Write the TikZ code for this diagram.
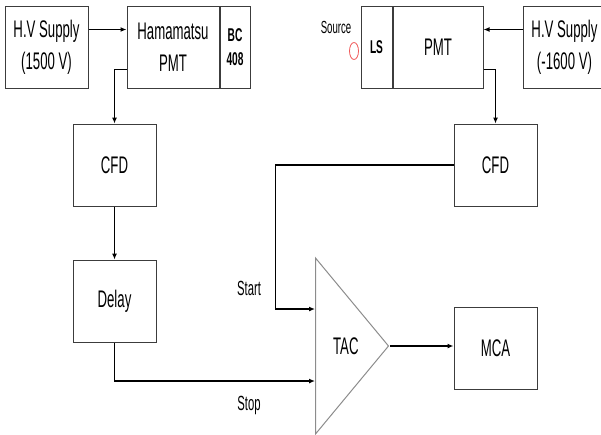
\documentclass[tikz,border=0pt]{standalone}
\usepackage{fontspec}
\setmainfont{Liberation Sans}[FakeStretch=0.55]
\usepackage{tikz}
\usetikzlibrary{arrows.meta,positioning,shapes.geometric}
\definecolor{edge}{RGB}{60,60,60}
\definecolor{tacgray}{RGB}{140,140,140}
\definecolor{srcred}{RGB}{240,90,90}

\begin{document}
\begin{tikzpicture}[
  x=1pt, y=-1pt,
  node distance=35pt and 38pt,
  every node/.style={font=\fontsize{24}{32}\selectfont},
  box/.style={draw=edge, line width=1pt, inner sep=0pt, align=center,
    minimum width=83pt, minimum height=82pt},
  tag/.style={font=\fontsize{20.5}{22}\selectfont},
  sig/.style={-{Latex[length=6pt,width=5pt]}, line width=1.8pt},
  thinsig/.style={-{Latex[length=6pt,width=5pt]}, line width=1.1pt}
]
\useasboundingbox (0,0) rectangle (601,434);

% left chain
\node[box] (hvl) at (46.5,47) {H.V Supply\\(1500 V)};
\node[box, minimum width=92pt, right=of hvl] (ham) {Hamamatsu\\PMT};
\node[box, minimum width=30pt, right=0pt of ham,
  font=\bfseries\fontsize{18.5}{24}\selectfont] (bc) {BC\\408};
\node[box, below=of hvl, xshift=68pt] (cfdl) {CFD};
\node[box, below=53pt of cfdl] (delay) {Delay};

% right chain
\node[box, minimum width=90pt] (pmt) at (438,47) {PMT};
\node[box, minimum width=31pt, left=0pt of pmt,
  font=\bfseries\fontsize{18.5}{20}\selectfont] (ls) {LS};
\node[box, right=39pt of pmt] (hvr) {H.V Supply\\(-1600 V)};
\node[box, below=of pmt, xshift=57.5pt] (cfdr) {CFD};
\node[box, below=100pt of cfdr] (mca) {MCA};

\node[font=\fontsize{17.5}{20}\selectfont] (src) at (336,27) {Source};
\node[draw=srcred, line width=0.8pt, ellipse, inner sep=0pt,
  minimum width=9pt, minimum height=17pt] (srcdot) at (354,51) {};

% TAC
\node[draw=tacgray, line width=1pt, isosceles triangle,
  isosceles triangle stretches, minimum width=176pt, minimum height=73pt,
  inner sep=0pt, anchor=lower side] (tac) at (315,346) {TAC};
\node[tag] (start) at (249,288) {Start};
\node[tag] (stop) at (249,405) {Stop};

\draw[sig] ([yshift=-24pt]hvl.north east) -- ([yshift=-24pt]ham.north west);
\draw[thinsig] ([yshift=19pt]ham.south west) -| (cfdl.north);
\draw[thinsig] (cfdl) -- (delay);
\draw[sig] ([yshift=-24pt]hvr.north west) -- ([yshift=-24pt]pmt.north east);
\draw[thinsig] ([yshift=19pt]pmt.south east) -| (cfdr.north);
\draw[sig] (cfdr.west) -- ++(-178pt,0) |- ([yshift=37pt]tac.lower side);
\draw[sig] (delay.south) |- ([yshift=-35pt]tac.lower side);
\draw[sig] (tac.apex) -- (tac.apex -| mca.west);
\end{tikzpicture}
\end{document}
